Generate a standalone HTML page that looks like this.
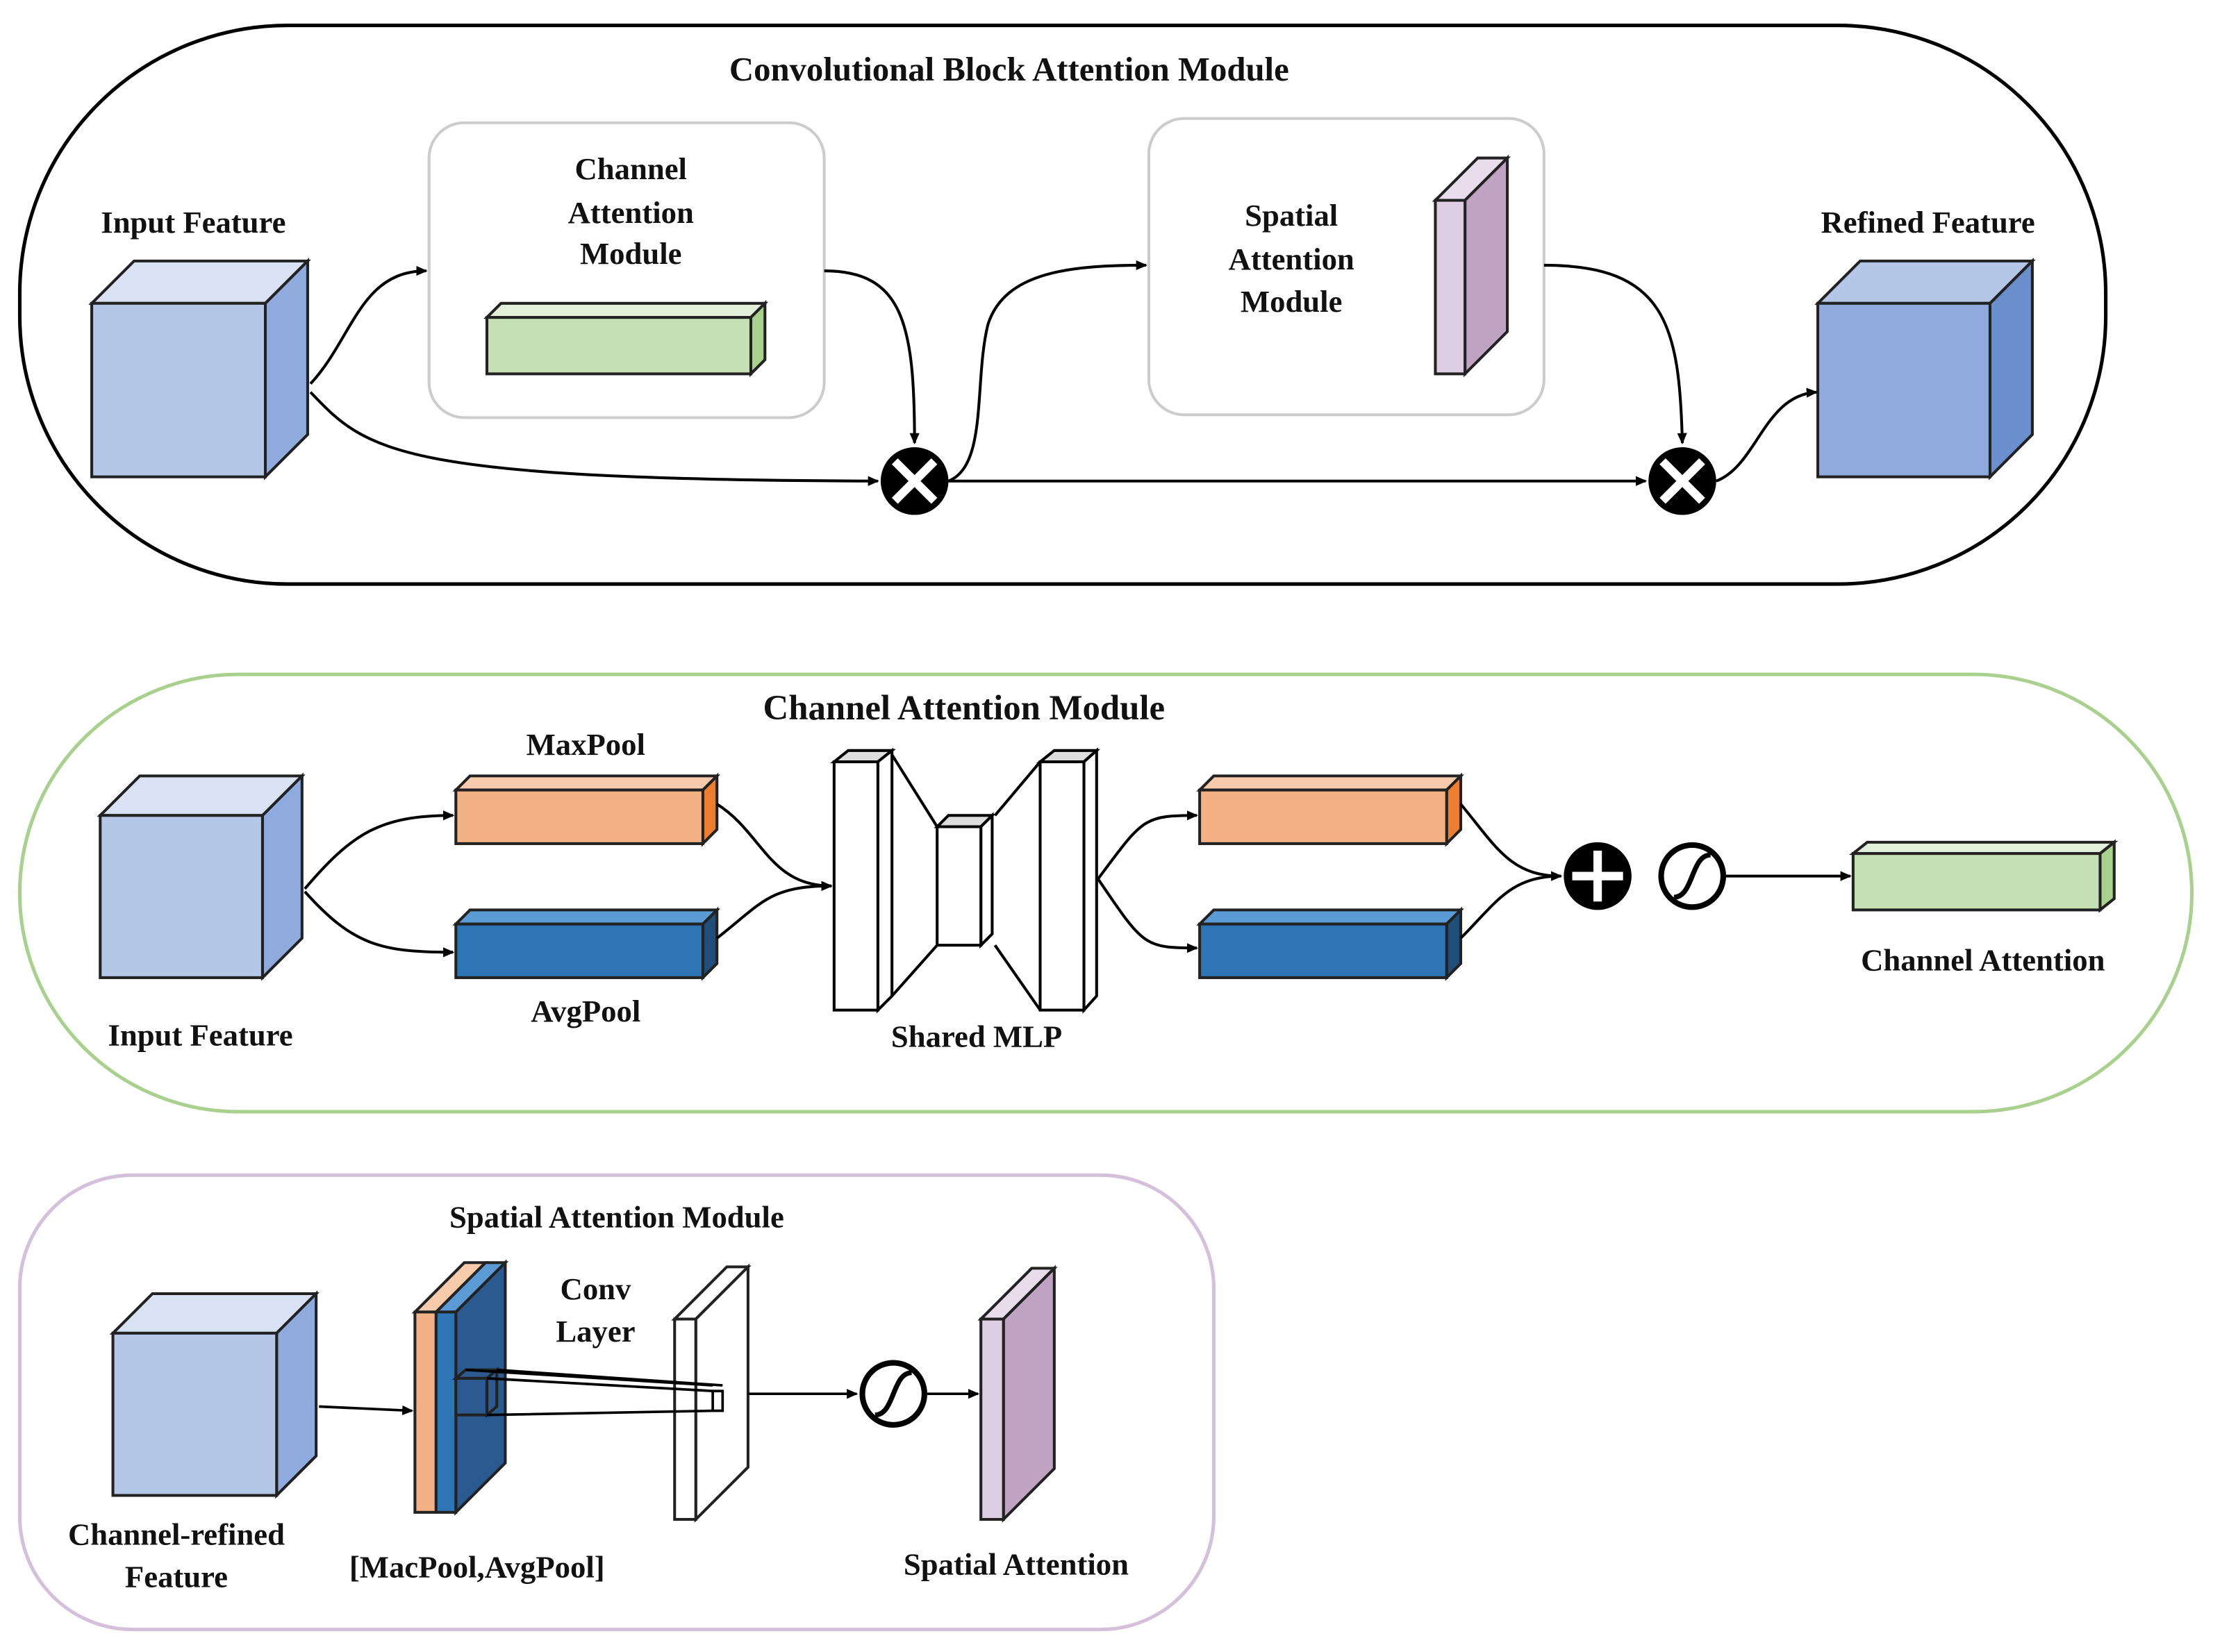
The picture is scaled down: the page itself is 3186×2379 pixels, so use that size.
<!DOCTYPE html>
<html><head><meta charset="utf-8"><style>html,body{margin:0;padding:0;background:#fff}svg{display:block}text{font-family:"Liberation Serif",serif;font-weight:bold;fill:#111}</style></head>
<body>
<svg width="3186" height="2379" viewBox="0 0 1568 1171" preserveAspectRatio="none" xmlns="http://www.w3.org/2000/svg">
<defs><marker id="a" markerWidth="8" markerHeight="8" refX="7" refY="4" orient="auto" markerUnits="userSpaceOnUse"><path d="M0,0.5 L8,4 L0,7.5z" fill="#000"/></marker></defs>
<g stroke="#000" stroke-width="2" fill="none">
<rect x="14" y="18" width="1478" height="396" rx="190" stroke-width="2.5"/>
<rect x="304" y="87" width="280" height="209" rx="25" stroke="#ccc"/>
<rect x="814" y="84" width="280" height="210" rx="25" stroke="#ccc"/>
</g>
<text x="715" y="57" font-size="24" text-anchor="middle">Convolutional Block Attention Module</text>
<text x="137" y="165" font-size="22" text-anchor="middle">Input Feature</text>
<text x="1366" y="165" font-size="22" text-anchor="middle">Refined Feature</text>
<text x="447" y="127" font-size="22" text-anchor="middle">Channel</text>
<text x="447" y="158" font-size="22" text-anchor="middle">Attention</text>
<text x="447" y="187" font-size="22" text-anchor="middle">Module</text>
<text x="915" y="160" font-size="22" text-anchor="middle">Spatial</text>
<text x="915" y="191" font-size="22" text-anchor="middle">Attention</text>
<text x="915" y="221" font-size="22" text-anchor="middle">Module</text>
<g stroke="#222" stroke-width="2">
<polygon points="65,215 95,185 218,185 188,215" fill="#d9e2f3"/>
<polygon points="188,215 218,185 218,308 188,338" fill="#8faadc"/>
<rect x="65" y="215" width="123" height="123" fill="#b4c7e7"/>
<polygon points="345,225 355,215 542,215 532,225" fill="#e2f0d9"/>
<polygon points="532,225 542,215 542,255 532,265" fill="#a9d18e"/>
<rect x="345" y="225" width="187" height="40" fill="#c5e0b4"/>
<polygon points="1017,142 1047,112 1068,112 1038,142" fill="#e8dced"/>
<polygon points="1038,142 1068,112 1068,235 1038,265" fill="#c0a3c3"/>
<rect x="1017" y="142" width="21" height="123" fill="#ddcde2"/>
<polygon points="1288,215 1318,185 1440,185 1410,215" fill="#b4c7e7"/>
<polygon points="1410,215 1440,185 1440,308 1410,338" fill="#6a8fcc"/>
<rect x="1288" y="215" width="122" height="123" fill="#8faadc"/>
</g>
<g stroke="#000" stroke-width="2" fill="none">
<path d="M220,272 C250,240 255,192 302,192" marker-end="url(#a)"/>
<path d="M220,278 C260,320 280,340 622,341" marker-end="url(#a)"/>
<path d="M584,192 C640,192 648,230 648,314" marker-end="url(#a)"/>
<path d="M672,341 C700,330 690,270 700,230 C712,192 760,188 812,188" marker-end="url(#a)"/>
<path d="M672,341 L1166,341" marker-end="url(#a)"/>
<path d="M1094,188 C1180,188 1190,230 1192,314" marker-end="url(#a)"/>
<path d="M1216,341 C1245,330 1250,280 1287,278" marker-end="url(#a)"/>
</g>
<g><circle cx="648" cy="341" r="24" fill="#000"/><path d="M634,327 L662,355 M662,327 L634,355" stroke="#fff" stroke-width="6"/>
<circle cx="1192" cy="341" r="24" fill="#000"/><path d="M1178,327 L1206,355 M1206,327 L1178,355" stroke="#fff" stroke-width="6"/></g>

<rect x="14" y="478" width="1539" height="310" rx="155" fill="none" stroke="#a9d18e" stroke-width="2.5"/>
<text x="683" y="510" font-size="25" text-anchor="middle">Channel Attention Module</text>
<text x="415" y="535" font-size="22" text-anchor="middle">MaxPool</text>
<text x="415" y="724" font-size="22" text-anchor="middle">AvgPool</text>
<text x="142" y="741" font-size="22" text-anchor="middle">Input Feature</text>
<text x="692" y="742" font-size="22" text-anchor="middle">Shared MLP</text>
<text x="1405" y="688" font-size="22" text-anchor="middle">Channel Attention</text>
<g stroke="#222" stroke-width="2">
<polygon points="71,578 99,550 214,550 186,578" fill="#d9e2f3"/>
<polygon points="186,578 214,550 214,665 186,693" fill="#8faadc"/>
<rect x="71" y="578" width="115" height="115" fill="#b4c7e7"/>
<polygon points="323,560 333,550 508,550 498,560" fill="#f8cbad"/>
<polygon points="498,560 508,550 508,588 498,598" fill="#ed7d31"/>
<rect x="323" y="560" width="175" height="38" fill="#f4b183"/>
<polygon points="323,655 333,645 508,645 498,655" fill="#5b9bd5"/>
<polygon points="498,655 508,645 508,683 498,693" fill="#1f4e79"/>
<rect x="323" y="655" width="175" height="38" fill="#2e75b6"/>
<polygon points="850,560 860,550 1035,550 1025,560" fill="#f8cbad"/>
<polygon points="1025,560 1035,550 1035,588 1025,598" fill="#ed7d31"/>
<rect x="850" y="560" width="175" height="38" fill="#f4b183"/>
<polygon points="850,655 860,645 1035,645 1025,655" fill="#5b9bd5"/>
<polygon points="1025,655 1035,645 1035,683 1025,693" fill="#1f4e79"/>
<rect x="850" y="655" width="175" height="38" fill="#2e75b6"/>
<polygon points="1313,605 1323,597 1498,597 1488,605" fill="#e2f0d9"/>
<polygon points="1488,605 1498,597 1498,637 1488,645" fill="#a9d18e"/>
<rect x="1313" y="605" width="175" height="40" fill="#c5e0b4"/>
<g stroke="#000">
<path d="M632,535 L664,586 M632,706 L664,670 M705,578 L737,540 M705,670 L737,716" fill="none"/>
<polygon points="591,540 601,532 632,532 622,540" fill="#ddd"/>
<polygon points="622,540 632,532 632,706 622,716" fill="#fff"/>
<rect x="591" y="540" width="31" height="176" fill="#fff"/>
<polygon points="664,586 672,578 703,578 695,586" fill="#ddd"/>
<polygon points="695,586 703,578 703,662 695,670" fill="#fff"/>
<rect x="664" y="586" width="31" height="84" fill="#fff"/>
<polygon points="737,540 747,532 777,532 768,540" fill="#ddd"/>
<polygon points="768,540 777,532 777,706 768,716" fill="#fff"/>
<rect x="737" y="540" width="31" height="176" fill="#fff"/>
</g>
</g>
<g stroke="#000" stroke-width="2" fill="none">
<path d="M216,630 C250,590 270,578 321,578" marker-end="url(#a)"/>
<path d="M216,632 C250,670 270,675 321,675" marker-end="url(#a)"/>
<path d="M508,570 C540,590 545,628 589,628" marker-end="url(#a)"/>
<path d="M508,665 C540,640 545,628 589,628" marker-end="url(#a)"/>
<path d="M778,623 C810,580 810,578 848,578" marker-end="url(#a)"/>
<path d="M778,623 C810,670 810,672 848,672" marker-end="url(#a)"/>
<path d="M1035,570 C1060,600 1070,621 1106,621" marker-end="url(#a)"/>
<path d="M1035,665 C1060,640 1070,621 1106,621"/>
<path d="M1222,621 L1311,621" marker-end="url(#a)"/>
</g>
<circle cx="1132" cy="621" r="24" fill="#000"/><path d="M1132,603 V639 M1114,621 H1150" stroke="#fff" stroke-width="6"/>
<circle cx="1199" cy="621" r="22" fill="#fff" stroke="#000" stroke-width="4"/>
<path d="M1186,636 C1200,636 1198,606 1212,606" stroke="#000" stroke-width="3.5" fill="none"/>

<rect x="14" y="833" width="846" height="322" rx="80" fill="none" stroke="#d5c0dc" stroke-width="2.5"/>
<text x="437" y="870" font-size="22" text-anchor="middle">Spatial Attention Module</text>
<text x="422" y="921" font-size="22" text-anchor="middle">Conv</text>
<text x="422" y="951" font-size="22" text-anchor="middle">Layer</text>
<text x="125" y="1095" font-size="22" text-anchor="middle">Channel-refined</text>
<text x="125" y="1125" font-size="22" text-anchor="middle">Feature</text>
<text x="338" y="1118" font-size="22" text-anchor="middle">[MacPool,AvgPool]</text>
<text x="720" y="1116" font-size="22" text-anchor="middle">Spatial Attention</text>
<g stroke="#222" stroke-width="2">
<polygon points="80,945 108,917 224,917 196,945" fill="#d9e2f3"/>
<polygon points="196,945 224,917 224,1032 196,1060" fill="#8faadc"/>
<rect x="80" y="945" width="116" height="115" fill="#b4c7e7"/>
<polygon points="294,930 329,895 344,895 309,930" fill="#f8cbad"/>
<rect x="294" y="930" width="15" height="142" fill="#f4b183"/>
<polygon points="309,930 344,895 358,895 323,930" fill="#5b9bd5"/>
<polygon points="323,930 358,895 358,1037 323,1072" fill="#2a5a8f"/>
<rect x="309" y="930" width="14" height="142" fill="#2e75b6"/>
<polygon points="323,977 330,971 352,971 345,977" fill="#2a5a8f"/>
<polygon points="345,977 352,971 352,997 345,1003" fill="#2a5a8f"/>
<rect x="323" y="977" width="22" height="26" fill="#2a5a8f"/>
<polygon points="478,935 515,898 530,898 493,935" fill="#fff"/>
<polygon points="493,935 530,898 530,1040 493,1077" fill="#fff"/>
<rect x="478" y="935" width="15" height="142" fill="#fff"/>
<polygon points="695,935 731,899 747,899 711,935" fill="#e8dced"/>
<polygon points="711,935 747,899 747,1041 711,1077" fill="#c0a3c3"/>
<rect x="695" y="935" width="16" height="142" fill="#ddcde2"/>
</g>
<g stroke="#000" stroke-width="1.8" fill="none">
<path d="M330,971 L505,982 M352,971 L512,982 M345,1003 L505,1000 M345,977 L505,986"/>
<rect x="505" y="986" width="7" height="14" fill="#fff"/>
<path d="M226,997 L292,1000" marker-end="url(#a)"/>
<path d="M530,988 L607,988" marker-end="url(#a)"/>
<path d="M657,988 L693,988" marker-end="url(#a)"/>
</g>
<circle cx="633" cy="988" r="22" fill="#fff" stroke="#000" stroke-width="4"/>
<path d="M620,1003 C634,1003 632,973 646,973" stroke="#000" stroke-width="3.5" fill="none"/>
</svg>
</body></html>
